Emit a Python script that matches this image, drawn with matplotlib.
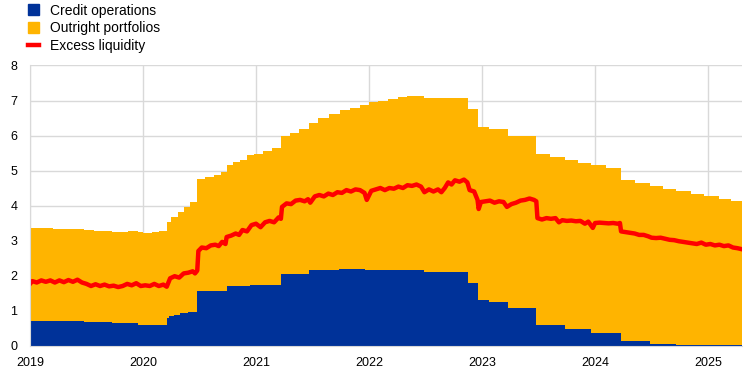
import numpy as np
import matplotlib
matplotlib.use("Agg")
from matplotlib import pyplot as plt
from matplotlib.patches import Patch
from matplotlib.lines import Line2D

plt.rcParams['font.family'] = ['Liberation Sans', 'DejaVu Sans']

# Credit operations (step changes: decimal year, EUR trillions)
credit_dates = [2019.00, 2019.48, 2019.73, 2019.96, 2020.21, 2020.23, 2020.27, 2020.33,
                2020.40, 2020.48, 2020.74, 2020.95, 2021.22, 2021.47, 2021.73, 2021.96,
                2022.49, 2022.88, 2022.96, 2023.06, 2023.23, 2023.48, 2023.73, 2023.96,
                2024.23, 2024.49, 2024.72, 2024.96]
credit_vals = [0.70, 0.67, 0.64, 0.58, 0.78, 0.84, 0.87, 0.93,
               0.96, 1.56, 1.70, 1.73, 2.04, 2.16, 2.19, 2.16,
               2.10, 1.78, 1.30, 1.24, 1.07, 0.58, 0.47, 0.37,
               0.13, 0.05, 0.02, 0.01]

# Top of the stacked area (credit operations + outright portfolios)
total_dates = [2019.00, 2019.20, 2019.48, 2019.57, 2019.73, 2019.87, 2019.96, 2020.00,
               2020.08, 2020.14, 2020.21, 2020.25, 2020.31, 2020.36, 2020.42, 2020.48,
               2020.55, 2020.63, 2020.69, 2020.74, 2020.80, 2020.86, 2020.92, 2020.98,
               2021.06, 2021.14, 2021.22, 2021.30, 2021.38, 2021.47, 2021.55, 2021.65,
               2021.74, 2021.83, 2021.92, 2022.00, 2022.08, 2022.17, 2022.26, 2022.34,
               2022.49, 2022.88, 2022.96, 2023.06, 2023.23, 2023.48, 2023.60, 2023.73,
               2023.85, 2023.96, 2024.10, 2024.23, 2024.35, 2024.49, 2024.60, 2024.72,
               2024.85, 2024.96, 2025.10, 2025.20]
total_vals = [3.36, 3.33, 3.30, 3.27, 3.24, 3.27, 3.24, 3.21,
              3.24, 3.27, 3.53, 3.67, 3.81, 3.96, 4.10, 4.76,
              4.81, 4.88, 4.96, 5.16, 5.23, 5.30, 5.44, 5.47,
              5.55, 5.63, 5.99, 6.08, 6.18, 6.37, 6.50, 6.62,
              6.72, 6.80, 6.88, 6.95, 7.00, 7.05, 7.10, 7.13,
              7.08, 6.76, 6.24, 6.18, 5.99, 5.47, 5.40, 5.30,
              5.22, 5.16, 5.08, 4.73, 4.64, 4.56, 4.48, 4.42,
              4.34, 4.27, 4.20, 4.13]

# Excess liquidity
el_dates = [2019.00, 2019.02, 2019.06, 2019.10, 2019.14, 2019.18, 2019.22, 2019.26, 2019.30, 2019.34,
            2019.38, 2019.42, 2019.46, 2019.50, 2019.54, 2019.58, 2019.62, 2019.66, 2019.70, 2019.74,
            2019.78, 2019.82, 2019.86, 2019.90, 2019.94, 2019.98, 2020.02, 2020.06, 2020.10, 2020.14,
            2020.18, 2020.21, 2020.24, 2020.28, 2020.32, 2020.36, 2020.40, 2020.44, 2020.46, 2020.48,
            2020.49, 2020.52, 2020.56, 2020.60, 2020.64, 2020.67, 2020.70, 2020.73, 2020.74, 2020.78,
            2020.82, 2020.85, 2020.88, 2020.92, 2020.96, 2021.00, 2021.04, 2021.08, 2021.12, 2021.16,
            2021.20, 2021.22, 2021.23, 2021.27, 2021.31, 2021.35, 2021.39, 2021.43, 2021.46, 2021.48,
            2021.52, 2021.56, 2021.60, 2021.64, 2021.68, 2021.72, 2021.76, 2021.80, 2021.84, 2021.88,
            2021.92, 2021.96, 2021.98, 2022.02, 2022.06, 2022.10, 2022.14, 2022.18, 2022.22, 2022.26,
            2022.30, 2022.34, 2022.38, 2022.42, 2022.46, 2022.49, 2022.53, 2022.57, 2022.61, 2022.64,
            2022.67, 2022.70, 2022.73, 2022.76, 2022.80, 2022.84, 2022.87, 2022.89, 2022.93, 2022.96,
            2022.97, 2022.99, 2023.03, 2023.07, 2023.11, 2023.15, 2023.19, 2023.22, 2023.26, 2023.30,
            2023.34, 2023.38, 2023.42, 2023.46, 2023.48, 2023.49, 2023.53, 2023.57, 2023.61, 2023.65,
            2023.68, 2023.71, 2023.75, 2023.79, 2023.83, 2023.87, 2023.91, 2023.94, 2023.98, 2024.00,
            2024.04, 2024.08, 2024.12, 2024.16, 2024.20, 2024.22, 2024.23, 2024.27, 2024.31, 2024.35,
            2024.39, 2024.43, 2024.47, 2024.50, 2024.54, 2024.58, 2024.62, 2024.66, 2024.70, 2024.74,
            2024.78, 2024.82, 2024.86, 2024.90, 2024.94, 2024.98, 2025.02, 2025.06, 2025.10, 2025.14,
            2025.18, 2025.22, 2025.26, 2025.30]
el_vals = [1.76, 1.84, 1.80, 1.86, 1.82, 1.86, 1.80, 1.86, 1.81, 1.87,
           1.82, 1.88, 1.80, 1.76, 1.70, 1.75, 1.70, 1.74, 1.69, 1.71,
           1.67, 1.70, 1.76, 1.72, 1.78, 1.70, 1.72, 1.70, 1.76, 1.70,
           1.74, 1.68, 1.92, 1.98, 1.94, 2.06, 2.08, 2.12, 2.06, 2.14,
           2.70, 2.80, 2.78, 2.86, 2.88, 2.84, 2.96, 2.90, 3.10, 3.14,
           3.20, 3.16, 3.30, 3.26, 3.44, 3.48, 3.38, 3.52, 3.56, 3.52,
           3.66, 3.62, 3.96, 4.06, 4.04, 4.14, 4.16, 4.12, 4.18, 4.08,
           4.26, 4.30, 4.26, 4.34, 4.30, 4.38, 4.36, 4.44, 4.40, 4.46,
           4.44, 4.36, 4.16, 4.42, 4.46, 4.50, 4.44, 4.50, 4.48, 4.54,
           4.50, 4.58, 4.56, 4.60, 4.54, 4.38, 4.46, 4.40, 4.46, 4.38,
           4.50, 4.66, 4.60, 4.72, 4.68, 4.74, 4.66, 4.44, 4.40, 4.16,
           3.90, 4.10, 4.12, 4.14, 4.08, 4.12, 4.10, 3.96, 4.04, 4.08,
           4.14, 4.16, 4.20, 4.16, 4.12, 3.64, 3.60, 3.64, 3.62, 3.64,
           3.52, 3.58, 3.56, 3.57, 3.55, 3.56, 3.48, 3.54, 3.36, 3.50,
           3.51, 3.50, 3.49, 3.50, 3.48, 3.50, 3.26, 3.24, 3.22, 3.20,
           3.16, 3.16, 3.12, 3.08, 3.07, 3.08, 3.05, 3.02, 3.01, 2.98,
           2.96, 2.94, 2.92, 2.90, 2.94, 2.88, 2.90, 2.86, 2.88, 2.84,
           2.86, 2.80, 2.78, 2.75]

years = [2019, 2020, 2021, 2022, 2023, 2024, 2025]
x_end = 2025.30

blue = '#003299'
orange = '#FFB400'
red = '#FF0000'

# common step grid
grid = np.unique(np.concatenate([credit_dates, total_dates, [x_end]]))
def step_at(dates, vals, x):
    idx = np.searchsorted(dates, x, side='right') - 1
    return np.asarray(vals)[idx]
credit = step_at(credit_dates, credit_vals, grid)
outright = step_at(total_dates, total_vals, grid) - credit

fig = plt.figure(figsize=(7.44, 3.73), dpi=100)
ax = fig.add_axes([0.0403, 0.0737, 0.9570, 0.7507])

ax.fill_between(grid, 0, credit, step='post', color=blue, lw=0)
ax.fill_between(grid, credit, credit + outright, step='post', color=orange, lw=0)
ax.plot(el_dates, el_vals, color=red, lw=3.2, solid_joinstyle='round')

ax.set_xlim(2019, x_end)
ax.set_ylim(0, 8)
ax.set_xticks(years)
ax.set_xticklabels([str(y) for y in years])
ax.set_yticks(range(0, 9))
ax.tick_params(length=0, labelsize=9, colors='#000000', pad=8)
ax.tick_params(axis='y', pad=9)
ax.grid(True, color='#d9d9d9', lw=1)
ax.set_axisbelow(True)
for s in ['top', 'right']:
    ax.spines[s].set_visible(False)
for s in ['left', 'bottom']:
    ax.spines[s].set_color('#d9d9d9')

handles = [Patch(color=blue, label='Credit operations'),
           Patch(color=orange, label='Outright portfolios'),
           Line2D([0], [0], color=red, lw=3.2, label='Excess liquidity')]
fig.legend(handles=handles, loc='upper left', bbox_to_anchor=(0.037, 0.99),
           frameon=False, fontsize=10, handlelength=0.85, handleheight=0.85,
           handletextpad=0.8, labelspacing=0.25, borderaxespad=0, borderpad=0)

fig.savefig('out.png', dpi=100)
